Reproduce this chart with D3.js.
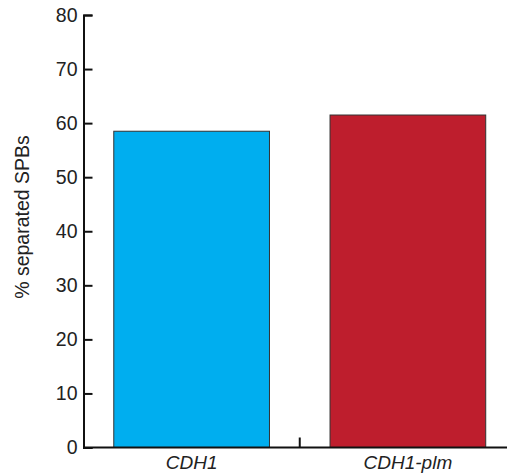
<!DOCTYPE html>
<html>
<head>
<meta charset="utf-8">
<script src="https://cdn.jsdelivr.net/npm/d3@7"></script>
<style>
body { margin: 0; background: #fff; }
</style>
</head>
<body>
<div id="containerDiv"></div>
<script>
var strains = ["CDH1", "CDH1-plm"];
var separated = [58.5, 61.5];
var barColors = ["#00aeef", "#be1e2d"];
var yTicks = [0, 10, 20, 30, 40, 50, 60, 70, 80];

var w = 507;
var h = 475;

var svg = d3.select("#containerDiv")
            .append("svg")
            .attr("width", w)
            .attr("height", h);

var x = d3.scaleBand()
          .domain(strains)
          .range([83.5, 516])
          .paddingInner(0.28)
          .paddingOuter(0.14);

var y = d3.scaleLinear()
          .domain([0, 80])
          .range([447.5, 15]);

// bars
svg.append("g")
   .selectAll("rect")
   .data(strains)
   .enter()
   .append("rect")
   .attr("x", function(d) { return x(d); })
   .attr("y", function(d, i) { return y(separated[i]); })
   .attr("width", x.bandwidth())
   .attr("height", function(d, i) { return y(0) - y(separated[i]); })
   .attr("fill", function(d, i) { return barColors[i]; })
   .attr("stroke", "#333")
   .attr("stroke-width", 1);

// y axis, ticks pointing inward
var yAxis = svg.append("g")
   .attr("transform", "translate(83.5,0)")
   .call(d3.axisLeft(y).tickValues(yTicks).tickSize(-9).tickPadding(6));

yAxis.select(".domain").attr("stroke", "#111").attr("stroke-width", 2);
yAxis.selectAll(".tick line").attr("stroke", "#111").attr("stroke-width", 2);
yAxis.selectAll("text")
     .attr("font-family", "Liberation Sans, Arial, sans-serif")
     .attr("font-size", "19.5px")
     .attr("fill", "#222");

// x axis line with a tick between the two bars
var step = x.step();
var bounds = [83.5, 83.5 + step, 83.5 + 2 * step];

svg.append("line")
   .attr("x1", 83.5)
   .attr("x2", w)
   .attr("y1", y(0))
   .attr("y2", y(0))
   .attr("stroke", "#111")
   .attr("stroke-width", 2);

svg.selectAll(".xtick")
   .data(bounds.slice(1))
   .enter()
   .append("line")
   .attr("class", "xtick")
   .attr("x1", function(d) { return d; })
   .attr("x2", function(d) { return d; })
   .attr("y1", y(0))
   .attr("y2", y(0) - 10)
   .attr("stroke", "#111")
   .attr("stroke-width", 2);

svg.selectAll(".xlabel")
   .data(strains)
   .enter()
   .append("text")
   .attr("class", "xlabel")
   .text(function(d) { return d; })
   .attr("text-anchor", "middle")
   .attr("x", function(d) { return x(d) + x.bandwidth() / 2; })
   .attr("y", 469)
   .attr("font-family", "Liberation Sans, Arial, sans-serif")
   .attr("font-style", "italic")
   .attr("font-size", "19px")
   .attr("fill", "#222");

svg.append("text")
   .text("% separated SPBs")
   .attr("text-anchor", "middle")
   .attr("transform", "translate(29,217) rotate(-90)")
   .attr("font-family", "Liberation Sans, Arial, sans-serif")
   .attr("font-size", "19.5px")
   .attr("fill", "#222");
</script>
</body>
</html>
